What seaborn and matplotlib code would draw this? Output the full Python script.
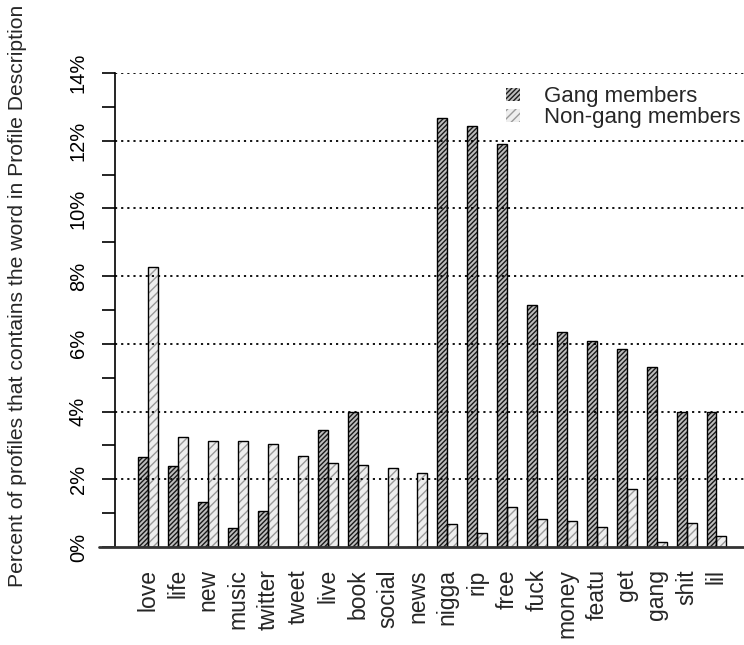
import pandas as pd
import matplotlib.pyplot as plt
import seaborn as sns
from matplotlib.patches import Patch, Rectangle
from matplotlib.ticker import MultipleLocator, FuncFormatter

# ── Data (percent of profiles containing the word) ─────────
words = ['love', 'life', 'new', 'music', 'twitter', 'tweet', 'live', 'book',
         'social', 'news', 'nigga', 'rip', 'free', 'fuck', 'money', 'featu',
         'get', 'gang', 'shit', 'lil']
gang = [2.65, 2.39, 1.33, 0.56, 1.06, 0.0, 3.45, 4.0, 0.0, 0.0,
        12.68, 12.42, 11.89, 7.14, 6.34, 6.08, 5.84, 5.31, 3.98, 4.0]
non_gang = [8.26, 3.24, 3.13, 3.13, 3.04, 2.68, 2.48, 2.42, 2.33, 2.18,
            0.68, 0.41, 1.18, 0.83, 0.77, 0.59, 1.71, 0.15, 0.71, 0.32]
groups = ['Gang members', 'Non-gang members']

df = pd.DataFrame({'word': words * 2,
                   'pct': gang + non_gang,
                   'group': [groups[0]] * len(words) + [groups[1]] * len(words)})

sns.set_style('white')
plt.rcParams['font.family'] = ['Liberation Sans', 'DejaVu Sans']
plt.rcParams['hatch.linewidth'] = 1.0

fig = plt.figure(figsize=(7.44, 6.45), dpi=100)
ax = fig.add_axes([115 / 744, 98 / 645, 629 / 744, 474 / 645])

sns.barplot(data=df, x='word', y='pct', hue='group', order=words,
            hue_order=groups, width=0.667, ax=ax, legend=False,
            palette=['#c8c8c8', '#ececec'], saturation=1)

# hatching like R's density/angle fills
styles = [dict(face='#bdbdbd', hatch='///////', hcol='#1a1a1a'),
          dict(face='#eeeeee', hatch='////', hcol='#9a9a9a')]
for cont, st in zip(ax.containers, styles):
    for p in cont.patches:
        p.set_facecolor(st['face'])
        p.set_hatch(st['hatch'])
        p.set_edgecolor(st['hcol'])
        p.set_linewidth(0)
        ax.add_patch(Rectangle(p.get_xy(), p.get_width(), p.get_height(),
                               fill=False, edgecolor='black', lw=1.0, zorder=2.5))

ax.set_xlim(-1.115, len(words) - 1 + 0.92)
ax.set_ylim(0, 14)

# dotted grid over the bars
for y in range(2, 15, 2):
    ax.axhline(y, color='black', lw=1.3, ls=(0, (1.2, 2.2)), zorder=4)
ax.axhline(0, xmin=-0.025, xmax=1, color='#333333', lw=2, zorder=5, clip_on=False)

ax.yaxis.set_major_locator(MultipleLocator(2))
ax.yaxis.set_minor_locator(MultipleLocator(1))
ax.yaxis.set_major_formatter(FuncFormatter(lambda v, _: f'{v:.0f}%'))
ax.tick_params(axis='y', which='both', left=True, length=9.5, width=1.2,
               direction='out', labelsize=14.5, pad=10, colors='black')
for lab in ax.get_yticklabels():
    lab.set_rotation(90)
    lab.set_va('center')
ax.tick_params(axis='x', length=0, pad=16, labelsize=16.5, rotation=90)

for s in ['top', 'right', 'bottom']:
    ax.spines[s].set_visible(False)
ax.spines['left'].set_linewidth(1.2)
ax.spines['left'].set_color('black')

ax.set_xlabel('')
ax.set_ylabel('Percent of profiles that contains the word in Profile Description',
              fontsize=15.2)
ax.yaxis.set_label_coords(-(115 - 27) / 629, 0.53)

handles = [Patch(facecolor='#bdbdbd', edgecolor='#1a1a1a', hatch='///////', lw=0),
           Patch(facecolor='#eeeeee', edgecolor='#9a9a9a', hatch='////', lw=0)]
leg = ax.legend(handles, groups, loc='upper right', bbox_to_anchor=(1.016, 1.0),
                frameon=False, fontsize=16, handlelength=0.6, handleheight=0.5,
                handletextpad=1.1, labelspacing=0.0, borderaxespad=0.2)

plt.savefig('out.png', dpi=100)
plt.close()
